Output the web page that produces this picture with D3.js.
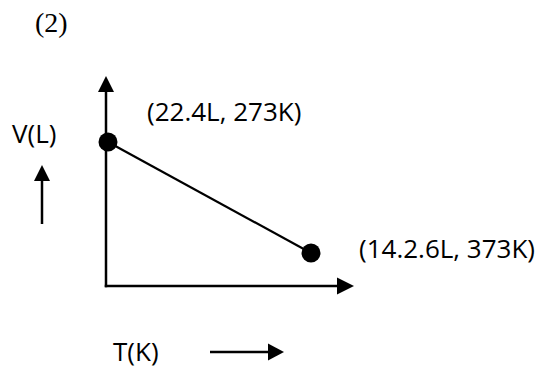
<!DOCTYPE html>
<html>
<head>
<meta charset="utf-8">
<script src="https://cdn.jsdelivr.net/npm/d3@7"></script>
<style>
  html, body { margin: 0; padding: 0; background: #fff; }
  svg { display: block; }
</style>
</head>
<body>
<script>
// ---- data ----
const pointLabels = ["(22.4L, 273K)", "(14.2.6L, 373K)"];
const temperatures = [273, 373];          // K
const volumes = [22.4, 14.26];            // L (as plotted)
const figureNumber = "(2)";
const yAxisTitle = "V(L)";
const xAxisTitle = "T(K)";

// ---- layout ----
const W = 541, H = 370;
const svg = d3.select("body").append("svg").attr("width", W).attr("height", H);

const origin = { x: 106, y: 286 };
const xScale = d3.scaleLinear().domain([273, 373]).range([108, 311]);
const yScale = d3.scaleLinear().domain([14.26, 22.4]).range([253, 142]);

const black = "#000";
const sans = "'Open Sans', 'Noto Sans', sans-serif";
const fs = 26;

// figure number
svg.append("text")
  .attr("x", 35).attr("y", 32)
  .attr("font-family", "'Liberation Serif', 'Times New Roman', serif")
  .attr("font-size", 28)
  .attr("fill", black)
  .text(figureNumber);

function arrow(x1, y1, x2, y2, headLen, headHalf, width) {
  const dx = x2 - x1, dy = y2 - y1, L = Math.hypot(dx, dy);
  const ux = dx / L, uy = dy / L;
  const bx = x2 - ux * headLen, by = y2 - uy * headLen;
  svg.append("line")
    .attr("x1", x1).attr("y1", y1).attr("x2", bx + ux).attr("y2", by + uy)
    .attr("stroke", black).attr("stroke-width", width);
  svg.append("path")
    .attr("d", `M${x2},${y2} L${bx - uy * headHalf},${by + ux * headHalf} L${bx + uy * headHalf},${by - ux * headHalf} Z`)
    .attr("fill", black);
}

// axes
arrow(origin.x, origin.y + 1.25, origin.x, 76, 16, 8, 2.5);
arrow(origin.x - 1.25, origin.y, 354, origin.y, 17, 8.5, 2.5);

// small direction arrows
arrow(42, 224, 42, 165, 16, 8, 2.5);
arrow(210, 352, 284, 352, 16, 8.5, 2.5);

// axis titles
svg.append("text")
  .attr("x", 12).attr("y", 143)
  .attr("font-family", sans).attr("font-size", fs).attr("fill", black)
  .text(yAxisTitle);
svg.append("text")
  .attr("x", 113).attr("y", 361)
  .attr("font-family", sans).attr("font-size", fs).attr("fill", black)
  .text(xAxisTitle);

// data line & points
const pts = temperatures.map((t, i) => ({ t, v: volumes[i], label: pointLabels[i] }));
svg.append("path")
  .datum(pts)
  .attr("d", d3.line().x(d => xScale(d.t)).y(d => yScale(d.v)))
  .attr("stroke", black).attr("stroke-width", 2.2).attr("fill", "none");
svg.selectAll("circle.pt").data(pts).join("circle")
  .attr("class", "pt")
  .attr("cx", d => xScale(d.t)).attr("cy", d => yScale(d.v))
  .attr("r", 9.5).attr("fill", black);

// point labels
const labelPos = [{ x: 147, y: 121 }, { x: 359, y: 258 }];
svg.selectAll("text.pl").data(pts).join("text")
  .attr("class", "pl")
  .attr("x", (d, i) => labelPos[i].x).attr("y", (d, i) => labelPos[i].y)
  .attr("font-family", sans).attr("font-size", fs).attr("fill", black)
  .text(d => d.label);
</script>
</body>
</html>
